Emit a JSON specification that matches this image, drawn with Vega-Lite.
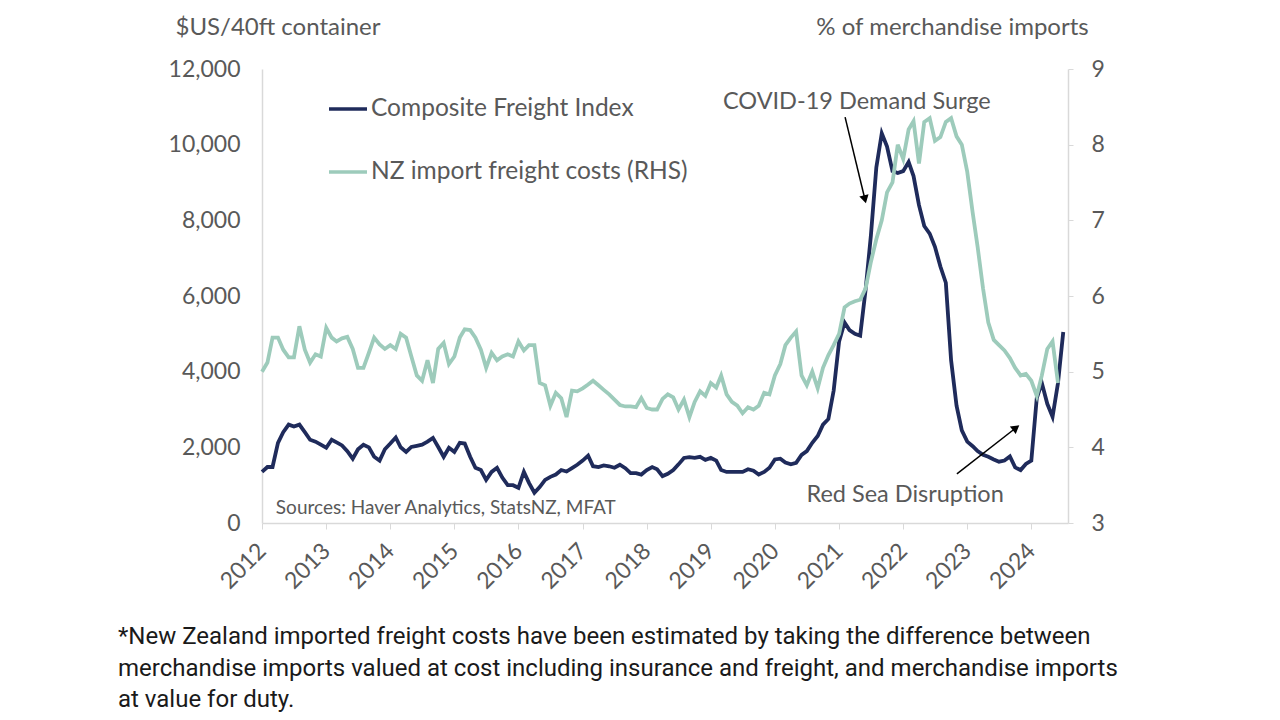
{
"$schema":"https://vega.github.io/schema/vega-lite/v6.json",
"width":806,"height":454,
"autosize":{"type":"none"},
"padding":{"left":262,"top":69,"right":212,"bottom":197},
"background":"white",
"config":{"font":"Lato","view":{"stroke":null}},
"datasets":{"main":[
{"d":"2012-01-01","cfi":1350,"nz":5.0},{"d":"2012-02-01","cfi":1480,"nz":5.12},{"d":"2012-03-01","cfi":1480,"nz":5.45},{"d":"2012-04-01","cfi":2120,"nz":5.45},{"d":"2012-05-01","cfi":2400,"nz":5.29},{"d":"2012-06-01","cfi":2600,"nz":5.19},{"d":"2012-07-01","cfi":2550,"nz":5.19},{"d":"2012-08-01","cfi":2600,"nz":5.6},{"d":"2012-09-01","cfi":2400,"nz":5.29},{"d":"2012-10-01","cfi":2200,"nz":5.12},{"d":"2012-11-01","cfi":2150,"nz":5.23},{"d":"2012-12-01","cfi":2070,"nz":5.2},
{"d":"2013-01-01","cfi":1990,"nz":5.58},{"d":"2013-02-01","cfi":2200,"nz":5.45},{"d":"2013-03-01","cfi":2130,"nz":5.4},{"d":"2013-04-01","cfi":2050,"nz":5.44},{"d":"2013-05-01","cfi":1900,"nz":5.46},{"d":"2013-06-01","cfi":1700,"nz":5.3},{"d":"2013-07-01","cfi":1950,"nz":5.05},{"d":"2013-08-01","cfi":2070,"nz":5.05},{"d":"2013-09-01","cfi":2000,"nz":5.25},{"d":"2013-10-01","cfi":1750,"nz":5.45},{"d":"2013-11-01","cfi":1650,"nz":5.36},{"d":"2013-12-01","cfi":1950,"nz":5.3},
{"d":"2014-01-01","cfi":2100,"nz":5.35},{"d":"2014-02-01","cfi":2260,"nz":5.3},{"d":"2014-03-01","cfi":2000,"nz":5.5},{"d":"2014-04-01","cfi":1880,"nz":5.45},{"d":"2014-05-01","cfi":2010,"nz":5.2},{"d":"2014-06-01","cfi":2040,"nz":4.95},{"d":"2014-07-01","cfi":2070,"nz":4.88},{"d":"2014-08-01","cfi":2150,"nz":5.15},{"d":"2014-09-01","cfi":2250,"nz":4.85},{"d":"2014-10-01","cfi":2010,"nz":5.3},{"d":"2014-11-01","cfi":1750,"nz":5.38},{"d":"2014-12-01","cfi":1990,"nz":5.1},
{"d":"2015-01-01","cfi":1880,"nz":5.2},{"d":"2015-02-01","cfi":2120,"nz":5.45},{"d":"2015-03-01","cfi":2100,"nz":5.56},{"d":"2015-04-01","cfi":1750,"nz":5.55},{"d":"2015-05-01","cfi":1460,"nz":5.45},{"d":"2015-06-01","cfi":1400,"nz":5.29},{"d":"2015-07-01","cfi":1140,"nz":5.05},{"d":"2015-08-01","cfi":1350,"nz":5.25},{"d":"2015-09-01","cfi":1460,"nz":5.15},{"d":"2015-10-01","cfi":1200,"nz":5.2},{"d":"2015-11-01","cfi":1000,"nz":5.23},{"d":"2015-12-01","cfi":1000,"nz":5.2},
{"d":"2016-01-01","cfi":930,"nz":5.4},{"d":"2016-02-01","cfi":1350,"nz":5.28},{"d":"2016-03-01","cfi":1060,"nz":5.35},{"d":"2016-04-01","cfi":800,"nz":5.35},{"d":"2016-05-01","cfi":950,"nz":4.85},{"d":"2016-06-01","cfi":1140,"nz":4.82},{"d":"2016-07-01","cfi":1220,"nz":4.55},{"d":"2016-08-01","cfi":1280,"nz":4.72},{"d":"2016-09-01","cfi":1400,"nz":4.65},{"d":"2016-10-01","cfi":1360,"nz":4.4},{"d":"2016-11-01","cfi":1450,"nz":4.75},{"d":"2016-12-01","cfi":1540,"nz":4.74},
{"d":"2017-01-01","cfi":1650,"nz":4.78},{"d":"2017-02-01","cfi":1780,"nz":4.83},{"d":"2017-03-01","cfi":1500,"nz":4.88},{"d":"2017-04-01","cfi":1480,"nz":4.82},{"d":"2017-05-01","cfi":1520,"nz":4.76},{"d":"2017-06-01","cfi":1500,"nz":4.7},{"d":"2017-07-01","cfi":1460,"nz":4.63},{"d":"2017-08-01","cfi":1540,"nz":4.56},{"d":"2017-09-01","cfi":1450,"nz":4.54},{"d":"2017-10-01","cfi":1320,"nz":4.54},{"d":"2017-11-01","cfi":1320,"nz":4.53},{"d":"2017-12-01","cfi":1280,"nz":4.65},
{"d":"2018-01-01","cfi":1400,"nz":4.52},{"d":"2018-02-01","cfi":1480,"nz":4.5},{"d":"2018-03-01","cfi":1420,"nz":4.5},{"d":"2018-04-01","cfi":1240,"nz":4.64},{"d":"2018-05-01","cfi":1300,"nz":4.7},{"d":"2018-06-01","cfi":1400,"nz":4.66},{"d":"2018-07-01","cfi":1550,"nz":4.5},{"d":"2018-08-01","cfi":1720,"nz":4.63},{"d":"2018-09-01","cfi":1740,"nz":4.4},{"d":"2018-10-01","cfi":1720,"nz":4.6},{"d":"2018-11-01","cfi":1750,"nz":4.74},{"d":"2018-12-01","cfi":1670,"nz":4.68},
{"d":"2019-01-01","cfi":1720,"nz":4.85},{"d":"2019-02-01","cfi":1650,"nz":4.79},{"d":"2019-03-01","cfi":1400,"nz":4.95},{"d":"2019-04-01","cfi":1350,"nz":4.7},{"d":"2019-05-01","cfi":1350,"nz":4.6},{"d":"2019-06-01","cfi":1350,"nz":4.55},{"d":"2019-07-01","cfi":1350,"nz":4.45},{"d":"2019-08-01","cfi":1420,"nz":4.53},{"d":"2019-09-01","cfi":1380,"nz":4.5},{"d":"2019-10-01","cfi":1280,"nz":4.55},{"d":"2019-11-01","cfi":1350,"nz":4.72},{"d":"2019-12-01","cfi":1460,"nz":4.7},
{"d":"2020-01-01","cfi":1680,"nz":4.95},{"d":"2020-02-01","cfi":1700,"nz":5.1},{"d":"2020-03-01","cfi":1600,"nz":5.35},{"d":"2020-04-01","cfi":1550,"nz":5.45},{"d":"2020-05-01","cfi":1590,"nz":5.53},{"d":"2020-06-01","cfi":1800,"nz":4.95},{"d":"2020-07-01","cfi":1900,"nz":4.82},{"d":"2020-08-01","cfi":2120,"nz":5.0},{"d":"2020-09-01","cfi":2300,"nz":4.78},{"d":"2020-10-01","cfi":2600,"nz":5.05},{"d":"2020-11-01","cfi":2750,"nz":5.22},{"d":"2020-12-01","cfi":3500,"nz":5.35},
{"d":"2021-01-01","cfi":4800,"nz":5.5},{"d":"2021-02-01","cfi":5300,"nz":5.85},{"d":"2021-03-01","cfi":5100,"nz":5.9},{"d":"2021-04-01","cfi":5000,"nz":5.93},{"d":"2021-05-01","cfi":4950,"nz":5.95},{"d":"2021-06-01","cfi":6170,"nz":6.1},{"d":"2021-07-01","cfi":7600,"nz":6.45},{"d":"2021-08-01","cfi":9400,"nz":6.75},{"d":"2021-09-01","cfi":10300,"nz":7.0},{"d":"2021-10-01","cfi":9950,"nz":7.37},{"d":"2021-11-01","cfi":9300,"nz":7.5},{"d":"2021-12-01","cfi":9250,"nz":8.0},
{"d":"2022-01-01","cfi":9300,"nz":7.81},{"d":"2022-02-01","cfi":9540,"nz":8.2},{"d":"2022-03-01","cfi":9170,"nz":8.31},{"d":"2022-04-01","cfi":8400,"nz":7.75},{"d":"2022-05-01","cfi":7850,"nz":8.3},{"d":"2022-06-01","cfi":7650,"nz":8.35},{"d":"2022-07-01","cfi":7300,"nz":8.05},{"d":"2022-08-01","cfi":6780,"nz":8.1},{"d":"2022-09-01","cfi":6350,"nz":8.3},{"d":"2022-10-01","cfi":4300,"nz":8.35},{"d":"2022-11-01","cfi":3100,"nz":8.11},{"d":"2022-12-01","cfi":2450,"nz":8.0},
{"d":"2023-01-01","cfi":2150,"nz":7.64},{"d":"2023-02-01","cfi":2030,"nz":7.1},{"d":"2023-03-01","cfi":1900,"nz":6.65},{"d":"2023-04-01","cfi":1800,"nz":6.1},{"d":"2023-05-01","cfi":1750,"nz":5.65},{"d":"2023-06-01","cfi":1680,"nz":5.42},{"d":"2023-07-01","cfi":1620,"nz":5.35},{"d":"2023-08-01","cfi":1650,"nz":5.28},{"d":"2023-09-01","cfi":1760,"nz":5.18},{"d":"2023-10-01","cfi":1470,"nz":5.05},{"d":"2023-11-01","cfi":1400,"nz":4.95},{"d":"2023-12-01","cfi":1560,"nz":4.97},
{"d":"2024-01-01","cfi":1650,"nz":4.88},{"d":"2024-02-01","cfi":3300,"nz":4.68},{"d":"2024-03-01","cfi":3700,"nz":4.95},{"d":"2024-04-01","cfi":3150,"nz":5.3},{"d":"2024-05-01","cfi":2810,"nz":5.4},{"d":"2024-06-01","cfi":3700,"nz":4.85},{"d":"2024-07-01","cfi":5050}
]},
"data":{"name":"main"},
"title":{"text":["*New Zealand imported freight costs have been estimated by taking the difference between","merchandise imports valued at cost including insurance and freight, and merchandise imports","at value for duty."],"orient":"bottom","anchor":"start","frame":"group","font":"Roboto","fontSize":24,"fontWeight":"normal","color":"#1a1a1a","lineHeight":31.5,"dx":-144,"offset":32,"baseline":"top"},
"layer":[
{"layer":[
{"mark":{"type":"line","strokeWidth":3.8,"interpolate":"linear"},
"encoding":{
"x":{"field":"d","type":"temporal","scale":{"type":"utc","domain":[{"year":2012,"month":1,"date":1,"utc":true},{"year":2024,"month":7,"date":28,"utc":true}]},"axis":{"title":null,"format":"%Y","tickCount":{"interval":"year","step":1},"labelAngle":-45,"labelAlign":"right","labelBaseline":"middle","labelFontSize":23,"labelColor":"#595959","domainColor":"#d9d9d9","domainWidth":1.5,"tickColor":"#d9d9d9","tickSize":6,"labelPadding":18,"grid":false}},
"y":{"field":"cfi","type":"quantitative","scale":{"domain":[0,12000],"nice":false},"axis":{"title":"$US/40ft container","titleAngle":0,"titleAlign":"left","titleBaseline":"middle","titleX":-87,"titleY":-42,"titleFontSize":24,"titleFontWeight":"normal","titleColor":"#595959","format":",.0f","values":[0,2000,4000,6000,8000,10000,12000],"ticks":false,"labelPadding":22,"labelFontSize":23,"labelColor":"#595959","domainColor":"#d9d9d9","domainWidth":1.5,"grid":false}},
"color":{"datum":"Composite Freight Index","type":"nominal","scale":{"domain":["Composite Freight Index","NZ import freight costs (RHS)"],"range":["#1f2b5b","#9dcbbb"]},"legend":{"title":null,"orient":"none","legendX":65,"legendY":19,"direction":"vertical","symbolType":"stroke","symbolStrokeWidth":3.5,"symbolSize":1444,"labelFontSize":24.5,"labelLimit":500,"labelColor":"#595959","labelOffset":2,"rowPadding":30}}
}},
{"data":{"values":[{"d":"2021-02-04","v":10728,"d2":"2021-05-28","v2":8556},{"d":"2022-11-03","v":1298,"d2":"2023-10-06","v2":2517}]},
"mark":{"type":"rule","color":"#000000","strokeWidth":1.5},
"encoding":{"x":{"field":"d","type":"temporal"},"x2":{"field":"d2"},"y":{"field":"v","type":"quantitative"},"y2":{"field":"v2"}}},
{"data":{"values":[{"d":"2021-05-28","v":8556}]},
"mark":{"type":"point","shape":"triangle-down","angle":346,"filled":true,"color":"#000000","size":90,"opacity":1},
"encoding":{"x":{"field":"d","type":"temporal"},"y":{"field":"v","type":"quantitative"}}},
{"data":{"values":[{"d":"2023-10-06","v":2517}]},
"mark":{"type":"point","shape":"triangle-up","angle":52,"filled":true,"color":"#000000","size":90,"opacity":1},
"encoding":{"x":{"field":"d","type":"temporal"},"y":{"field":"v","type":"quantitative"}}},
{"data":{"values":[{"t":"COVID-19 Demand Surge","d":"2021-04-12","v":11125},{"t":"Red Sea Disruption","d":"2022-01-12","v":742}]},
"mark":{"type":"text","align":"center","baseline":"middle","fontSize":23.5,"color":"#595959"},
"encoding":{"x":{"field":"d","type":"temporal"},"y":{"field":"v","type":"quantitative"},"text":{"field":"t"}}},
{"data":{"values":[{"t":"Sources: Haver Analytics, StatsNZ, MFAT","d":"2012-03-20","v":397}]},
"mark":{"type":"text","align":"left","baseline":"middle","fontSize":19,"color":"#595959"},
"encoding":{"x":{"field":"d","type":"temporal"},"y":{"field":"v","type":"quantitative"},"text":{"field":"t"}}}
]},
{"mark":{"type":"line","strokeWidth":3.8,"interpolate":"linear"},
"encoding":{
"x":{"field":"d","type":"temporal"},
"y":{"field":"nz","type":"quantitative","scale":{"domain":[3,9],"nice":false},"axis":{"orient":"right","title":"% of merchandise imports","titleAngle":0,"titleAlign":"center","titleBaseline":"middle","titleX":-116,"titleY":-42,"titleFontSize":24,"titleFontWeight":"normal","titleColor":"#595959","values":[3,4,5,6,7,8,9],"tickSize":5,"tickColor":"#d9d9d9","labelPadding":18,"labelFontSize":23,"labelColor":"#595959","domainColor":"#d9d9d9","domainWidth":1.5,"grid":false}},
"color":{"datum":"NZ import freight costs (RHS)","type":"nominal"}
}}
],
"resolve":{"scale":{"y":"independent"}}
}
